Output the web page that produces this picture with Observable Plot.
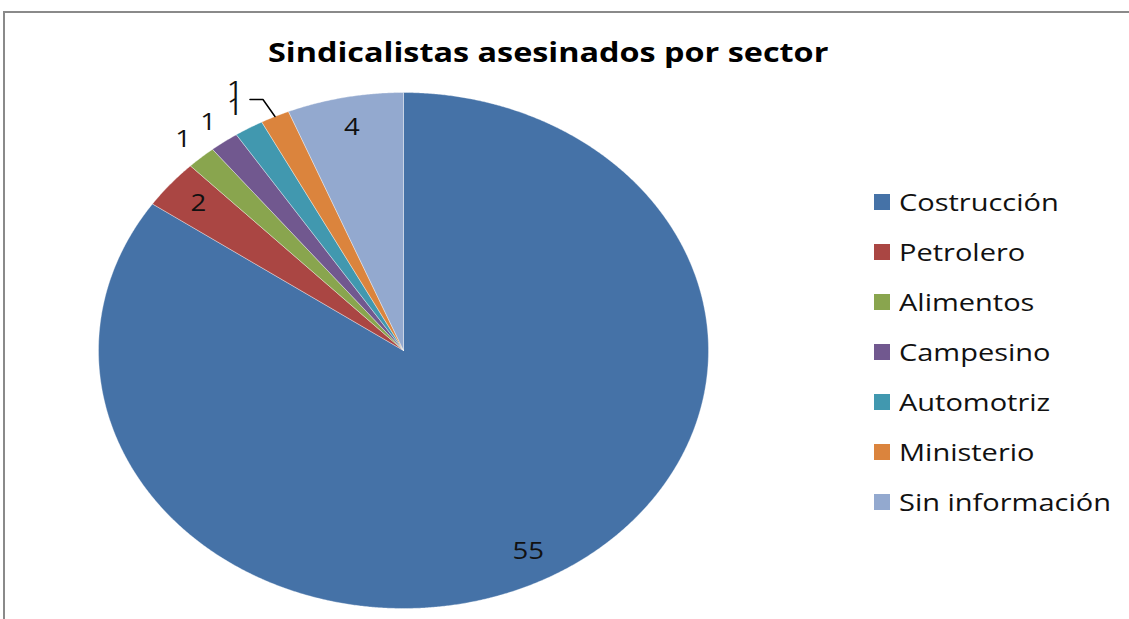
<!DOCTYPE html>
<html>
<head>
<meta charset="utf-8">
<script src="https://cdn.jsdelivr.net/npm/d3@7"></script>
<script src="https://cdn.jsdelivr.net/npm/@observablehq/plot@0.6"></script>
<style>
  html, body { margin: 0; padding: 0; background: #fff; }
  #wrap { position: relative; width: 1129px; height: 619px; overflow: hidden; font-family: "Open Sans", sans-serif; }
  #frame { position: absolute; left: 3px; top: 11px; width: 1140px; height: 620px;
           border-top: 2px solid #8a8a8a; border-left: 2px solid #8a8a8a; box-sizing: border-box; }
  #chart { position: absolute; left: 0; top: 0; }
  #title { position: absolute; left: 268px; top: 39px; transform: scaleX(1.245); transform-origin: 0 0;
           font-weight: bold; font-size: 26px; line-height: 26px; color: #000; white-space: nowrap; }
  .sw { position: absolute; width: 16px; height: 16px; }
  .lt { position: absolute; font-size: 23px; line-height: 30px; color: #111; white-space: nowrap;
        transform: scaleX(1.26); transform-origin: 0 0; }
</style>
</head>
<body>
<div id="wrap">
  <div id="frame"></div>
  <div id="chart"></div>
  <div id="title"></div>
  <div id="legend"></div>
</div>
<script>
// ---- data ----
const title = "Sindicalistas asesinados por sector";
const categories = ["Costrucción", "Petrolero", "Alimentos", "Campesino", "Automotriz", "Ministerio", "Sin información"];
const values = [55, 2, 1, 1, 1, 1, 4];
const colors = ["#4572A7", "#AA4643", "#89A54E", "#71588F", "#4198AF", "#DB843D", "#93A9CF"];

// ---- geometry (pie angles from data) ----
const W = 1129, H = 619;
const cx = 403, cy = 350, rx = 305, ry = 258;
const arcs = d3.pie().sort(null).value(d => d)(values);
const pt = (a, r) => ({x: r * Math.sin(a), y: r * Math.cos(a)});

const slicePts = [];
arcs.forEach((a, i) => {
  const name = categories[i];
  slicePts.push({name, x: 0, y: 0});
  const n = Math.max(2, Math.ceil((a.endAngle - a.startAngle) / 0.005));
  for (let k = 0; k <= n; k++) {
    const ang = a.startAngle + (a.endAngle - a.startAngle) * k / n;
    slicePts.push({name, ...pt(ang, 1)});
  }
  slicePts.push({name, x: 0, y: 0});
});

// labels: inside for larger slices, outside for small ones;
// the last label of a run of outside labels is stacked above its neighbour with a leader line
const isOut = values.map(v => v < 2);
const labels = [];
const leaders = [];
let prevOut = null;
arcs.forEach((a, i) => {
  const mid = (a.startAngle + a.endAngle) / 2;
  if (!isOut[i]) {
    labels.push({text: String(values[i]), ...pt(mid, 0.88)});
    prevOut = null;
  } else {
    let p = pt(mid, 1.09);
    const lastOfRun = prevOut && (i === values.length - 1 || !isOut[i + 1]);
    if (lastOfRun) {
      const edge = pt(mid, 1.0);
      const elbow = {x: edge.x - 12 / rx, y: edge.y + 17 / ry};
      const end = {x: elbow.x - 13 / rx, y: elbow.y};
      leaders.push({k: i, ...edge}, {k: i, ...elbow}, {k: i, ...end});
      p = {x: prevOut.x, y: prevOut.y + 17 / ry};
    }
    labels.push({text: String(values[i]), ...p});
    prevOut = p;
  }
});

const chart = Plot.plot({
  width: W,
  height: H,
  margin: 0,
  style: {background: "transparent", overflow: "visible"},
  x: {domain: [-1, 1], range: [cx - rx, cx + rx], axis: null},
  y: {domain: [-1, 1], range: [cy + ry, cy - ry], axis: null},
  color: {domain: categories, range: colors},
  marks: [
    Plot.line(slicePts, {x: "x", y: "y", z: "name", fill: "name", stroke: "#ffffff", strokeWidth: 0.6, strokeOpacity: 0.6, curve: "linear"}),
    Plot.line(leaders, {x: "x", y: "y", z: "k", stroke: "#000", strokeWidth: 1.5, curve: "linear"}),
    Plot.text(labels, {x: "x", y: "y", text: "text", fontSize: 23, fontFamily: "Open Sans", fill: "#111"})
  ]
});
// widen the label glyphs like the reference's stretched text
chart.querySelectorAll('g[aria-label="text"] text').forEach(t => {
  const tr = t.getAttribute("transform") || "";
  t.setAttribute("transform", tr + " scale(1.2,1)");
});
document.getElementById("chart").appendChild(chart);

document.getElementById("title").textContent = title;

const legend = document.getElementById("legend");
categories.forEach((c, i) => {
  const top = 187 + 50 * i;
  const sw = document.createElement("div");
  sw.className = "sw";
  sw.style.left = "874px";
  sw.style.top = (top + 7) + "px";
  sw.style.background = colors[i];
  legend.appendChild(sw);
  const t = document.createElement("div");
  t.className = "lt";
  t.style.left = "899px";
  t.style.top = top + "px";
  t.textContent = c;
  legend.appendChild(t);
});
</script>
</body>
</html>
